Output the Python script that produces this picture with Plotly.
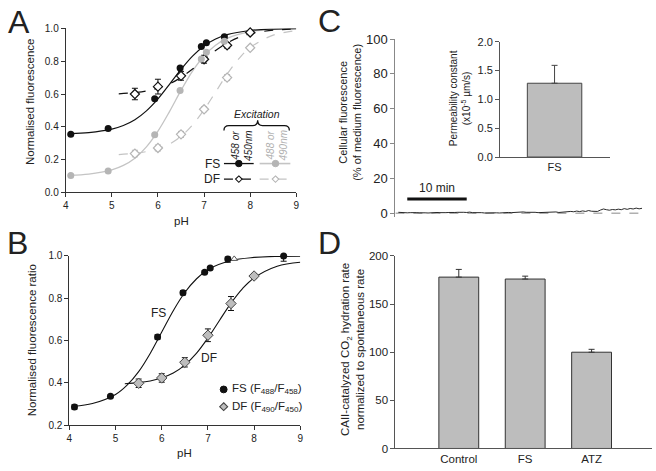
import plotly.graph_objects as go

W, H = 656, 471
FONT = "Arial, Liberation Sans, sans-serif"
BLACK = "#111111"
GRAY = "#b5b5b5"
GRAYLINE = "#c4c4c4"
AXC = "#333333"

# ---------------- Panel A data ----------------
ph_fs = [4.11, 4.92, 5.93, 6.48, 6.94, 7.05, 7.44, 8.67]
fs458 = [0.354, 0.389, 0.571, 0.759, 0.889, 0.913, 0.949, 1.035]
fs458_err = [0.006, 0.006, 0.006, 0.008, 0.006, 0.006, 0.008, 0.02]
fs488 = [0.103, 0.130, 0.352, 0.621, 0.814, 0.854, 0.921, 1.012]
fs488_err = [0.004, 0.004, 0.005, 0.006, 0.005, 0.005, 0.006, 0.008]
ph_df = [5.5, 6.0, 6.5, 7.0, 7.5, 8.0]
df450 = [0.600, 0.645, 0.711, 0.812, 0.897, 0.975]
df450_err = [0.035, 0.045, 0.027, 0.024, 0.017, 0.006]
df490 = [0.237, 0.271, 0.354, 0.507, 0.700, 0.882]
df490_err = [0.02, 0.018, 0.018, 0.015, 0.018, 0.008]

ph_fit_fs = [4.1, 4.5, 5.0, 5.25, 5.5, 5.75, 6.0, 6.25, 6.5, 6.75, 7.0, 7.25, 7.5, 8.0, 8.5, 9.0]
fit_fs458 = [0.359, 0.365, 0.386, 0.408, 0.443, 0.497, 0.570, 0.659, 0.750, 0.831, 0.893, 0.935, 0.962, 0.987, 0.996, 0.999]
fit_fs488 = [0.105, 0.112, 0.138, 0.165, 0.209, 0.278, 0.374, 0.493, 0.622, 0.740, 0.832, 0.897, 0.939, 0.980, 0.994, 0.998]
ph_fit_df = [5.15, 5.5, 5.75, 6.0, 6.25, 6.5, 6.75, 7.0, 7.25, 7.5, 7.75, 8.0, 8.5, 9.0]
fit_df450 = [0.601, 0.609, 0.619, 0.636, 0.662, 0.701, 0.752, 0.809, 0.865, 0.911, 0.945, 0.967, 0.989, 0.996]
fit_df490 = [0.231, 0.239, 0.249, 0.266, 0.295, 0.342, 0.411, 0.504, 0.612, 0.721, 0.814, 0.883, 0.959, 0.986]

# ---------------- Panel B data ----------------
ph_b_fs = [4.11, 4.89, 5.91, 6.46, 6.93, 7.05, 7.43, 8.64]
ratio_fs = [0.286, 0.336, 0.617, 0.826, 0.923, 0.943, 0.985, 1.0]
ratio_fs_err = [0.01, 0.006, 0.01, 0.01, 0.006, 0.006, 0.015, 0.025]
ph_b_df = [5.5, 6.0, 6.5, 7.0, 7.5, 8.0]
ratio_df = [0.398, 0.423, 0.497, 0.625, 0.775, 0.905]
ratio_df_err = [0.02, 0.02, 0.022, 0.03, 0.033, 0.012]
ph_b_extra = [7.57]
ratio_extra = [0.986]

ph_fit_b_fs = [4.1, 4.5, 5.0, 5.25, 5.5, 5.75, 6.0, 6.25, 6.5, 6.75, 7.0, 7.5, 8.0, 8.5, 9.0]
fit_b_fs = [0.289, 0.302, 0.345, 0.389, 0.453, 0.539, 0.640, 0.741, 0.827, 0.891, 0.935, 0.978, 0.993, 0.998, 0.999]
ph_fit_b_df = [5.2, 5.5, 5.75, 6.0, 6.25, 6.5, 6.75, 7.0, 7.25, 7.5, 7.75, 8.0, 8.5, 9.0]
fit_b_df = [0.396, 0.401, 0.409, 0.424, 0.447, 0.484, 0.539, 0.612, 0.695, 0.777, 0.846, 0.896, 0.951, 0.970]

# ---------------- Panel C data ----------------
cell_fluor = [0.5, 0.3, 0.4, 0.2, 0.3, 0.1, 0.3, 0.2, 0.0, 0.2, 0.1, 0.3, 0.2, 0.4, 0.3, 0.5,
              0.3, 0.4, 0.6, 0.4, 0.5, 0.3, 0.5, 0.4, 0.6, 0.3, 0.4, 0.2, 0.3, 0.1, 0.2, 0.0,
              0.1, 0.2, 0.1, 0.3, 0.2, 0.4, 0.3, 0.5, 0.4, 0.6, 0.7, 0.5, 0.6, 0.4, 0.5, 0.3,
              0.4, 0.5, 0.3, 0.6, 0.5, 0.7, 0.4, 0.6, 0.9, 0.7, 1.0, 0.8, 1.2, 0.9, 1.3, 1.0,
              1.5, 1.1, 1.2, 1.0, 1.8, 2.4, 2.0, 1.7, 2.1, 1.9, 2.3, 2.0, 2.6, 2.2, 2.7, 2.4,
              2.9, 2.5, 2.8]
time_min = [0.5 + 0.5 * i for i in range(len(cell_fluor))]
medium_ref = [0, 0]
medium_t = [0, 41.5]
perm_cat = ["FS"]
perm_val = [1.28]
perm_err = [0.31]

# ---------------- Panel D data ----------------
d_cats = ["Control", "FS", "ATZ"]
d_vals = [178, 176, 100]
d_err = [8, 3, 3]


def px(x):
    return x / W


def py(y):
    return 1 - y / H


fig = go.Figure()

# ---- Panel A traces ----
fig.add_trace(go.Scatter(x=ph_fit_fs, y=fit_fs488, mode="lines", line=dict(color=GRAYLINE, width=1.3, shape="spline"),
                         xaxis="x", yaxis="y"))
fig.add_trace(go.Scatter(x=ph_fit_df, y=fit_df490, mode="lines", line=dict(color=GRAYLINE, width=1.2, dash="dash", shape="spline"),
                         xaxis="x", yaxis="y"))
fig.add_trace(go.Scatter(x=ph_fit_fs, y=fit_fs458, mode="lines", line=dict(color=BLACK, width=1.2, shape="spline"),
                         xaxis="x", yaxis="y"))
fig.add_trace(go.Scatter(x=ph_fit_df, y=fit_df450, mode="lines", line=dict(color=BLACK, width=1.2, dash="dash", shape="spline"),
                         xaxis="x", yaxis="y"))
fig.add_trace(go.Scatter(x=ph_df, y=df490, mode="markers", cliponaxis=False,
                         marker=dict(symbol="diamond", size=7, color="white", line=dict(color=GRAY, width=1.2)),
                         error_y=dict(type="data", array=df490_err, color=GRAY, thickness=1, width=3),
                         xaxis="x", yaxis="y"))
fig.add_trace(go.Scatter(x=ph_df, y=df450, mode="markers", cliponaxis=False,
                         marker=dict(symbol="diamond", size=7, color="white", line=dict(color=BLACK, width=1.2)),
                         error_y=dict(type="data", array=df450_err, color=BLACK, thickness=1, width=3),
                         xaxis="x", yaxis="y"))
fig.add_trace(go.Scatter(x=ph_fs, y=fs458, mode="markers", cliponaxis=False,
                         marker=dict(symbol="circle", size=7, color=BLACK),
                         error_y=dict(type="data", array=fs458_err, color=BLACK, thickness=1, width=3),
                         xaxis="x", yaxis="y"))
fig.add_trace(go.Scatter(x=ph_fs, y=fs488, mode="markers", cliponaxis=False,
                         marker=dict(symbol="circle", size=7, color=GRAY),
                         error_y=dict(type="data", array=fs488_err, color=GRAY, thickness=1, width=3),
                         xaxis="x", yaxis="y"))

# ---- Panel B traces ----
fig.add_trace(go.Scatter(x=ph_fit_b_fs, y=fit_b_fs, mode="lines", line=dict(color=BLACK, width=1.1, shape="spline"),
                         xaxis="x2", yaxis="y2"))
fig.add_trace(go.Scatter(x=ph_fit_b_df, y=fit_b_df, mode="lines", line=dict(color=BLACK, width=1.1, shape="spline"),
                         xaxis="x2", yaxis="y2"))
fig.add_trace(go.Scatter(x=ph_b_extra, y=ratio_extra, mode="markers", cliponaxis=False,
                         marker=dict(symbol="triangle-up", size=6, color="white", line=dict(color="#555555", width=1)),
                         xaxis="x2", yaxis="y2"))
fig.add_trace(go.Scatter(x=ph_b_df, y=ratio_df, mode="markers", cliponaxis=False,
                         marker=dict(symbol="diamond", size=8, color="#bdbdbd", line=dict(color="#444444", width=1)),
                         error_y=dict(type="data", array=ratio_df_err, color=BLACK, thickness=1, width=3),
                         xaxis="x2", yaxis="y2"))
fig.add_trace(go.Scatter(x=ph_b_fs, y=ratio_fs, mode="markers", cliponaxis=False,
                         marker=dict(symbol="circle", size=7, color=BLACK),
                         error_y=dict(type="data", array=ratio_fs_err, color=BLACK, thickness=1, width=3),
                         xaxis="x2", yaxis="y2"))

# ---- Panel C traces ----
fig.add_trace(go.Scatter(x=medium_t, y=medium_ref, mode="lines", line=dict(color="#b0b0b0", width=1.5, dash="dash"),
                         xaxis="x3", yaxis="y3"))
fig.add_trace(go.Scatter(x=time_min, y=cell_fluor, mode="lines", line=dict(color=BLACK, width=0.9),
                         xaxis="x3", yaxis="y3"))
fig.add_trace(go.Bar(x=perm_cat, y=perm_val, width=1.0, marker=dict(color="#bdbdbd", line=dict(color="#444444", width=1)),
                     error_y=dict(type="data", array=perm_err, arrayminus=[0], color="#444444", thickness=1, width=3),
                     xaxis="x4", yaxis="y4"))

# ---- Panel D traces ----
fig.add_trace(go.Bar(x=d_cats, y=d_vals, width=0.6, marker=dict(color="#bdbdbd", line=dict(color="#333333", width=1)),
                     error_y=dict(type="data", array=d_err, arrayminus=[0, 0, 0], color="#333333", thickness=1, width=3),
                     xaxis="x5", yaxis="y5"))


def ax(**kw):
    base = dict(showline=True, linecolor=AXC, linewidth=1, ticks="outside", ticklen=4, tickcolor=AXC,
                showgrid=False, zeroline=False, tickfont=dict(size=10, color="#222222", family=FONT))
    base.update(kw)
    return base


layout = dict(
    width=W, height=H, autosize=False, margin=dict(l=0, r=0, t=0, b=0),
    paper_bgcolor="white", plot_bgcolor="rgba(0,0,0,0)", showlegend=False,
    font=dict(family=FONT, color="#222222"),
    xaxis=ax(domain=[px(63.3), px(296)], range=[4, 9], tickvals=[4, 5, 6, 7, 8, 9], anchor="y"),
    yaxis=ax(domain=[py(190.7), py(22)], range=[0, 1.0], tickvals=[0, 0.2, 0.4, 0.6, 0.8, 1.0],
             tickformat=".1f", anchor="x"),
    xaxis2=ax(domain=[px(67), px(300)], range=[4, 9], tickvals=[4, 5, 6, 7, 8, 9], anchor="y2"),
    yaxis2=ax(domain=[py(430), py(256)], range=[0.2, 1.0], tickvals=[0.2, 0.4, 0.6, 0.8, 1.0],
              tickformat=".1f", anchor="x2"),
    xaxis3=dict(domain=[px(396), px(645)], range=[0, 41.5], visible=False, anchor="y3"),
    yaxis3=ax(domain=[py(215.6), py(33)], range=[-2, 100], tickvals=[0, 20, 40, 60, 80, 100],
              linecolor="#888888", tickcolor="#888888", tickfont=dict(size=13, color="#222222", family=FONT),
              anchor="x3"),
    xaxis4=ax(domain=[px(501.7), px(612.7)], range=[-1, 1.02], type="category", ticks="",
              linecolor="#555555", tickfont=dict(size=11, color="#222222", family=FONT), anchor="y4"),
    yaxis4=ax(domain=[py(154.3), py(35.7)], range=[0, 2.0], tickvals=[0, 0.5, 1.0, 1.5, 2.0], tickformat=".1f",
              linecolor="#555555", tickcolor="#555555", tickfont=dict(size=11, color="#222222", family=FONT),
              anchor="x4"),
    xaxis5=ax(domain=[px(396), px(655)], range=[-0.955, 2.91], type="category", ticks="",
              linecolor="#555555", tickfont=dict(size=11.5, color="#222222", family=FONT), anchor="y5"),
    yaxis5=ax(domain=[py(454), py(256)], range=[0, 200], tickvals=[0, 50, 100, 150, 200],
              linecolor="#555555", tickcolor="#555555", tickfont=dict(size=11.5, color="#222222", family=FONT),
              anchor="x5"),
)

ann = []


def text(x, y, s, size=11.5, color="#222222", angle=0, xa="center", ya="middle"):
    ann.append(dict(x=px(x), y=py(y), xref="paper", yref="paper", text=s, showarrow=False,
                    textangle=angle, xanchor=xa, yanchor=ya,
                    font=dict(size=size, color=color, family=FONT)))


# panel letters
text(3, 15, "A", size=32, xa="left")
text(2, 243, "B", size=32, xa="left")
text(316, 14, "C", size=32, xa="left")
text(316, 243, "D", size=32, xa="left")

# axis titles
text(28, 97, "Normalised fluorescence", angle=-90)
text(180, 220, "pH")
text(29, 343, "Normalised fluorescence ratio", angle=-90)
text(183, 459, "pH")
text(350, 108, "Cellular fluorescence<br>(% of medium fluorescence)", size=11, angle=-90)
text(462, 94, "Permeability constant<br>(x10<sup>-5</sup> µm/s)", size=10, angle=-90)
text(353, 352, "CAII-catalyzed CO<sub>2</sub> hydration rate<br>normalized to spontaneous rate", size=11.5, angle=-90)

# panel A legend
text(256, 110, "<i>Excitation</i>", size=10.5)
text(241, 142, "<i>458 or<br>450nm</i>", size=10, angle=-90)
text(277, 142, "<i>488 or<br>490nm</i>", size=10, color="#b0b0b0", angle=-90)
text(221, 161, "FS", size=12, xa="right")
text(221, 177, "DF", size=12, xa="right")

# panel B labels / legend
text(157, 315, "FS", size=12)
text(208, 361, "DF", size=12)
text(229, 393, "FS (F<sub>488</sub>/F<sub>458</sub>)", size=11.5, xa="left")
text(229, 411, "DF (F<sub>490</sub>/F<sub>450</sub>)", size=11.5, xa="left")

# panel C scale bar label
ann.append(dict(x=7, y=9.5, xref="x3", yref="y3", text="10 min", showarrow=False, xanchor="center",
                yanchor="bottom", font=dict(size=12, color="#222222", family=FONT)))

layout["annotations"] = ann

shapes = []


def pline(x0, y0, x1, y1, color, width=1.3, dash="solid"):
    shapes.append(dict(type="line", xref="paper", yref="paper", x0=px(x0), y0=py(y0), x1=px(x1), y1=py(y1),
                       line=dict(color=color, width=width, dash=dash)))


def pcircle(cx, cy, r, fill, line):
    shapes.append(dict(type="circle", xref="paper", yref="paper", x0=px(cx - r), x1=px(cx + r),
                       y0=py(cy + r), y1=py(cy - r), fillcolor=fill, line=dict(color=line, width=1)))


def pdiamond(cx, cy, r, fill, line):
    path = "M {},{} L {},{} L {},{} L {},{} Z".format(px(cx), py(cy - r), px(cx + r), py(cy), px(cx), py(cy + r),
                                                       px(cx - r), py(cy))
    shapes.append(dict(type="path", xref="paper", yref="paper", path=path, fillcolor=fill,
                       line=dict(color=line, width=1.1)))


# legend rows in A
pline(223, 161, 253, 161, BLACK, 1.3)
pcircle(238, 161, 3.3, BLACK, BLACK)
pline(259, 161, 290, 161, GRAYLINE, 1.6)
pcircle(275, 161, 3.3, GRAY, GRAY)
pline(223, 177, 253, 177, BLACK, 1.2, "dash")
pdiamond(238, 177, 3.3, "white", BLACK)
pline(259, 177, 290, 177, GRAYLINE, 1.2, "dash")
pdiamond(275, 177, 3.3, "white", GRAY)

# brace
pts = [("M", [(223, 127)]), ("Q", [(223, 122), (228, 122)]), ("L", [(252, 122)]),
       ("Q", [(257, 122), (257, 116.5)]), ("Q", [(257, 122), (262, 122)]), ("L", [(284, 122)]),
       ("Q", [(289, 122), (289, 127)])]
bp = " ".join(c + " " + " ".join("{:.5f},{:.5f}".format(px(a), py(b)) for a, b in p) for c, p in pts)
shapes.append(dict(type="path", xref="paper", yref="paper", path=bp, line=dict(color=BLACK, width=1.3)))

# legend markers in B
pcircle(222.7, 393.3, 3.5, BLACK, BLACK)
pdiamond(222.7, 411, 4, "#bdbdbd", "#444444")

# scale bar in C
shapes.append(dict(type="line", xref="x3", yref="y3", x0=2, x1=12, y0=8.2, y1=8.2,
                   line=dict(color=BLACK, width=3)))

layout["shapes"] = shapes
fig.update_layout(**layout)
fig.write_html("out.html", config={"displayModeBar": False},
               post_script="document.body.style.margin='0';document.body.style.overflow='hidden';")
